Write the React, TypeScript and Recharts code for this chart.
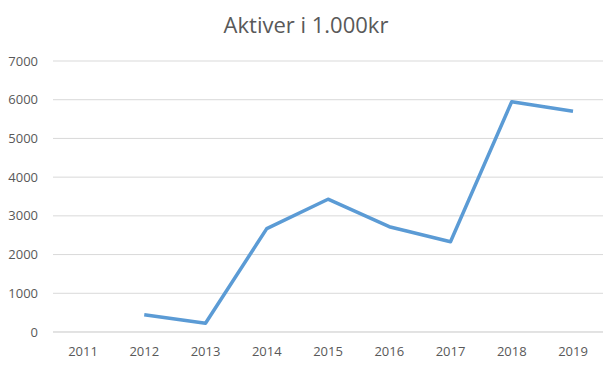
import React from "react";
import { LineChart, Line, XAxis, YAxis, CartesianGrid } from "recharts";

const years = ["2011", "2012", "2013", "2014", "2015", "2016", "2017", "2018", "2019"];
const aktiver: (number | null)[] = [null, 447, 225, 2670, 3430, 2720, 2330, 5950, 5700];
const yTicks = [0, 1000, 2000, 3000, 4000, 5000, 6000, 7000];

const data = years.map((y, i) => ({ year: y, value: aktiver[i] }));

const font = "'Open Sans', 'Liberation Sans', sans-serif";

export default function App() {
  return (
    <div style={{ position: "absolute", left: 0, top: 0, width: 616, height: 371, background: "#fff" }}>
      <div
        style={{
          position: "absolute",
          left: -2,
          top: 9,
          width: 616,
          textAlign: "center",
          fontFamily: font,
          fontSize: 22,
          color: "#595959",
          lineHeight: "30px",
        }}
      >
        Aktiver i 1.000kr
      </div>
      <LineChart width={616} height={371} data={data} margin={{ top: 61, right: 13, bottom: 9, left: 0 }}>
        <CartesianGrid vertical={false} stroke="#d9d9d9" strokeWidth={1} />
        <XAxis
          dataKey="year"
          axisLine={{ stroke: "#d9d9d9" }}
          tickLine={false}
          height={30}
          padding={{ left: 30, right: 30 }}
          interval={0}
          tick={{ fill: "#595959", fontSize: 13, fontFamily: font }}
          tickMargin={9}
        />
        <YAxis
          domain={[0, 7000]}
          ticks={yTicks}
          width={53}
          axisLine={false}
          tickLine={false}
          tickMargin={9}
          tick={{ fill: "#595959", fontSize: 13, fontFamily: font }}
        />
        <Line
          type="linear"
          dataKey="value"
          stroke="#5b9bd5"
          strokeWidth={3.5}
          strokeLinejoin="round"
          dot={false}
          isAnimationActive={false}
          connectNulls={false}
        />
      </LineChart>
    </div>
  );
}
